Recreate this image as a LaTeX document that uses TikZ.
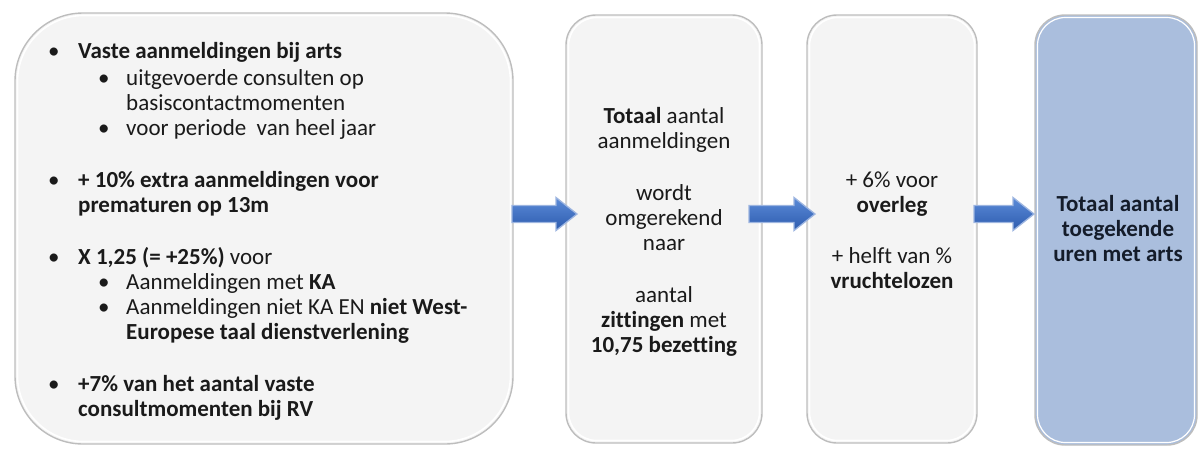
\documentclass[tikz,border=0pt]{standalone}
\usepackage{fontspec}
\setmainfont{Carlito}[Ligatures=NoCommon]
\definecolor{boxfill}{HTML}{F4F4F4}
\definecolor{boxline}{HTML}{BDBDBD}
\definecolor{bluefill}{HTML}{AABEDD}
\definecolor{arrtop}{HTML}{5B8BD8}
\definecolor{arrbot}{HTML}{2D5BAE}
\definecolor{arredge}{HTML}{9DB5E0}
\definecolor{txt}{HTML}{1A1A1A}
\definecolor{txtb}{HTML}{141C2A}
\tikzset{
  card/.style={rectangle, draw=boxline, line width=1.4pt, fill=boxfill, inner sep=0pt},
  inring/.style={draw=white, line width=1.6pt},
  ln/.style={anchor=west, inner sep=0pt, text height=15pt, text depth=5pt, text=txt, font=\fontsize{23}{27}\selectfont},
  cl/.style={anchor=center, inner sep=0pt, text height=15pt, text depth=5pt, text=txt, font=\fontsize{23}{27}\selectfont},
  blockarrow/.style={top color=arrtop, bottom color=arrbot, draw=arredge, line width=1.3pt, line join=miter},
}
\begin{document}
\begin{tikzpicture}[x=1pt,y=-1pt]
\useasboundingbox (0,0) rectangle (1198,448);
% boxes
\node[card, rounded corners=68pt, minimum width=498pt, minimum height=431pt] (b1) at (264,228.5) {};
\draw[inring, rounded corners=66pt] (17.5,15.5) rectangle (510.5,441.5);
\node[card, rounded corners=30pt, minimum width=196pt, minimum height=428pt] (b2) at (664,229) {};
\draw[inring, rounded corners=28pt] (568.5,17.5) rectangle (759.5,440.5);
\node[card, rounded corners=30pt, minimum width=170pt, minimum height=428pt] (b3) at (892,229) {};
\draw[inring, rounded corners=28pt] (809.5,17.5) rectangle (974.5,440.5);
\node[card, fill=bluefill, rounded corners=30pt, minimum width=162pt, minimum height=430pt] (b4) at (1116,230) {};
\draw[inring, line width=1.2pt, rounded corners=28pt] (1037.5,17.5) rectangle (1194.5,442.5);

% box 1 text
\node[ln] (m1b) at (48,53) {\textbullet};
\node[ln] (m1) at (78,53) {\textbf{Vaste aanmeldingen bij arts}};
\node[ln] (s1b) at (98,80) {\textbullet};
\node[ln] (s1) at (126,80) {uitgevoerde consulten op};
\node[ln] (s1c) at (126,105) {basiscontactmomenten};
\node[ln] (s2b) at (98,130) {\textbullet};
\node[ln] (s2) at (126,130) {voor periode\ \ van heel jaar};
\node[ln] (m2b) at (48,182) {\textbullet};
\node[ln] (m2) at (78,182) {\textbf{+ 10\% extra aanmeldingen voor}};
\node[ln] (m2c) at (78,207) {\textbf{prematuren op 13m}};
\node[ln] (m3b) at (48,259) {\textbullet};
\node[ln] (m3) at (78,259) {\textbf{X 1,25 (= +25\%)} voor};
\node[ln] (s3b) at (98,284) {\textbullet};
\node[ln] (s3) at (126,284) {Aanmeldingen met \textbf{KA}};
\node[ln] (s4b) at (98,309) {\textbullet};
\node[ln] (s4) at (126,309) {Aanmeldingen niet KA EN \textbf{niet West-}};
\node[ln] (s4c) at (126,334) {\textbf{Europese taal dienstverlening}};
\node[ln] (m4b) at (48,386) {\textbullet};
\node[ln] (m4) at (78,386) {\textbf{+7\% van het aantal vaste}};
\node[ln] (m4c) at (78,411) {\textbf{consultmomenten bij RV}};

% box 2 text
\node[cl] (t21) at (664,118) {\textbf{Totaal} aantal};
\node[cl] (t22) at (664,143) {aanmeldingen};
\node[cl] (t23) at (664,195) {wordt};
\node[cl] (t24) at (664,220) {omgerekend};
\node[cl] (t25) at (664,245) {naar};
\node[cl] (t26) at (664,297) {aantal};
\node[cl] (t27) at (664,322) {\textbf{zittingen} met};
\node[cl] (t28) at (664,347) {\textbf{10,75 bezetting}};

% box 3 text
\node[cl] (t31) at (892,182) {+ 6\% voor};
\node[cl] (t32) at (892,207) {\textbf{overleg}};
\node[cl] (t33) at (892,258) {+ helft van \%};
\node[cl] (t34) at (892,283) {\textbf{vruchtelozen}};

% box 4 text
\node[cl, text=txtb] (t41) at (1118,206) {\textbf{Totaal aantal}};
\node[cl, text=txtb] (t42) at (1118,231) {\textbf{toegekende}};
\node[cl, text=txtb] (t43) at (1118,256) {\textbf{uren met arts}};

% block arrows
\coordinate (a1s) at (512,214); \coordinate (a1e) at (577,214);
\coordinate (a2s) at (749,214); \coordinate (a2e) at (815,214);
\coordinate (a3s) at (974,214); \coordinate (a3e) at (1034,214);
\foreach \s/\e in {a1s/a1e, a2s/a2e, a3s/a3e}{
  \path[blockarrow] ([yshift=-8.5pt]\s) -- ([xshift=-21pt,yshift=-8.5pt]\e) -- ([xshift=-21pt,yshift=-16.5pt]\e)
     -- (\e) -- ([xshift=-21pt,yshift=16.5pt]\e) -- ([xshift=-21pt,yshift=8.5pt]\e) -- ([yshift=8.5pt]\s) -- cycle;
}
\end{tikzpicture}
\end{document}
